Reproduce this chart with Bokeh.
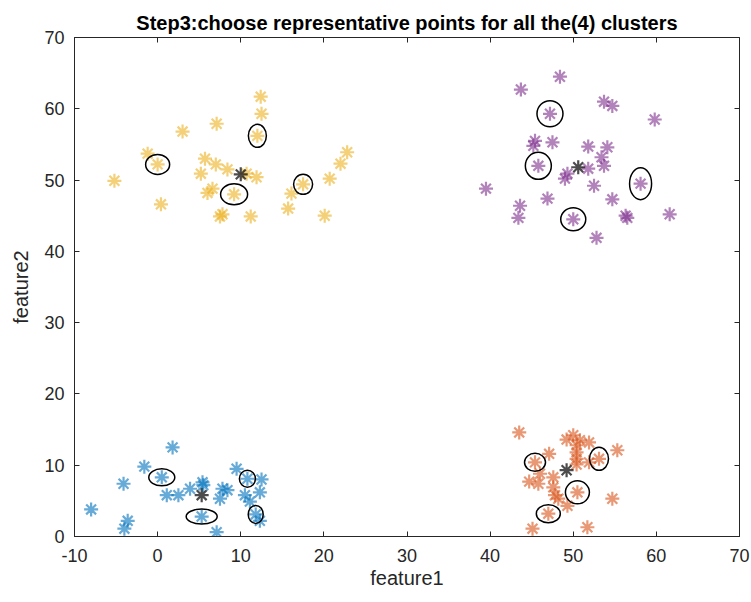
from bokeh.plotting import figure
from bokeh.models import LinearAxis, Range1d, FixedTicker
from bokeh.embed import file_html
from bokeh.resources import INLINE

# ---- data ----
blue_x = [1.8, -1.6, -4.1, 0.5, -8.0, -3.6, -4.0, 1.1, 2.5, 3.9, 5.4, 5.5, 5.3, 7.1, 7.8, 7.5, 8.4,
          9.5, 10.8, 12.5, 12.3, 10.5, 11.1, 11.8, 12.3]
blue_y = [12.5, 9.8, 7.4, 8.3, 3.8, 2.2, 1.1, 5.8, 5.8, 6.7, 7.6, 7.2, 2.8, 0.6, 6.7, 5.3, 6.5,
          9.5, 8.1, 8.0, 6.2, 5.8, 4.9, 3.1, 2.2]

orange_x = [43.5, 50.0, 49.2, 50.8, 51.9, 50.4, 50.4, 55.3, 47.1, 50.4, 51.9, 50.4, 45.4, 53.1,
            46.0, 44.7, 45.8, 47.6, 47.6, 47.8, 50.5, 48.2, 49.3, 54.7, 47.0, 45.1, 51.7]
orange_y = [14.6, 14.2, 13.6, 13.5, 13.2, 12.8, 11.8, 12.1, 11.6, 10.9, 10.4, 10.1, 10.4, 10.9,
            8.8, 7.7, 7.4, 8.3, 6.9, 5.8, 6.2, 5.3, 4.3, 5.3, 3.2, 1.1, 1.3]

yellow_x = [12.4, 12.5, 12.0, 3.0, 7.1, -1.2, 0.0, -5.2, 0.4, 5.7, 7.0, 5.2, 6.6, 6.0, 8.4, 9.2,
            7.8, 7.5, 11.2, 11.9, 10.7, 17.5, 16.1, 15.7, 20.1, 20.7, 22.0, 22.8]
yellow_y = [61.7, 59.3, 56.2, 56.8, 57.9, 53.7, 52.2, 49.9, 46.6, 53.0, 52.2, 50.9, 48.8, 48.2, 51.5, 48.0,
            45.2, 44.9, 44.9, 50.4, 50.9, 49.4, 48.1, 46.0, 45.0, 50.2, 52.3, 53.9]

purple_x = [48.4, 43.7, 47.2, 53.7, 54.7, 59.8, 45.4, 47.5, 45.2, 45.8, 51.8, 54.1, 53.4, 53.7,
            51.8, 49.3, 49.0, 52.5, 58.1, 39.5, 46.9, 54.7, 43.6, 43.4, 50.0, 56.3, 56.5, 61.6, 52.8]
purple_y = [64.5, 62.7, 59.3, 61.0, 60.4, 58.5, 55.5, 55.3, 54.8, 52.0, 54.7, 54.6, 53.2, 52.0,
            51.6, 50.9, 50.2, 49.2, 49.5, 48.8, 47.4, 47.3, 46.4, 44.7, 44.5, 45.0, 44.7, 45.2, 41.9]

centroid_x = [5.3, 49.2, 10.0, 50.6]
centroid_y = [5.8, 9.3, 50.8, 51.8]

rep_x = [0.5, 5.3, 10.8, 11.8, 45.4, 53.1, 50.5, 47.0, 12.0, 0.0, 9.2, 17.5, 47.2, 45.8, 58.1, 50.0]
rep_y = [8.3, 2.8, 8.1, 3.1, 10.4, 10.9, 6.2, 3.2, 56.2, 52.2, 48.0, 49.4, 59.3, 52.0, 49.5, 44.5]

x_ticks = [-10, 0, 10, 20, 30, 40, 50, 60, 70]
y_ticks = [0, 10, 20, 30, 40, 50, 60, 70]
x_tick_labels = ["-10", "0", "10", "20", "30", "40", "50", "60", "70"]

# ---- style ----
ell_w = [26, 31, 16, 15, 21, 19, 24, 24, 18, 24, 27, 19, 26, 26, 22, 25]
ell_h = [17, 15, 17, 18, 18, 23, 23, 18, 23, 20, 21, 20, 26, 27, 32, 23]
AX = "#262626"
FONT = "Liberation Sans"

p = figure(width=751, height=602, output_backend="svg", toolbar_location=None,
           x_range=Range1d(-10, 70), y_range=Range1d(0, 70),
           min_border_left=74, min_border_right=12, min_border_top=37, min_border_bottom=66)

p.title.text = "Step3:choose representative points for all the(4) clusters"
p.title.align = "center"
p.title.text_font = FONT
p.title.text_font_size = "20px"
p.title.text_font_style = "bold"
p.title.text_color = "black"
p.title.offset = 20
p.title.standoff = 7

p.grid.visible = False
p.outline_line_color = AX
p.outline_line_width = 1

for ax, ticks in ((p.xaxis[0], x_ticks), (p.yaxis[0], y_ticks)):
    ax.ticker = FixedTicker(ticks=ticks)
    ax.major_tick_in = 5
    ax.major_tick_out = 0
    ax.minor_tick_line_color = None
    ax.axis_line_color = AX
    ax.major_tick_line_color = AX
    ax.major_label_text_color = AX
    ax.major_label_text_font = FONT
    ax.major_label_text_font_size = "18px"
    ax.axis_label_text_font = FONT
    ax.axis_label_text_font_size = "20px"
    ax.axis_label_text_font_style = "normal"
    ax.axis_label_text_color = AX

p.xaxis.major_label_overrides = dict(zip(x_ticks, x_tick_labels))
p.xaxis.axis_label = "feature1"
p.yaxis.axis_label = "feature2"
p.xaxis.major_label_standoff = 12
p.yaxis.major_label_standoff = 10
p.xaxis.axis_label_standoff = 2
p.yaxis.axis_label_standoff = 9

top = LinearAxis(ticker=FixedTicker(ticks=x_ticks), major_tick_in=5, major_tick_out=0,
                 minor_tick_line_color=None, major_label_overrides={t: "" for t in x_ticks},
                 axis_line_color=None, major_tick_line_color=AX, major_label_standoff=0)
right = LinearAxis(ticker=FixedTicker(ticks=y_ticks), major_tick_in=5, major_tick_out=0,
                   minor_tick_line_color=None, major_label_overrides={t: "" for t in y_ticks},
                   axis_line_color=None, major_tick_line_color=AX, major_label_standoff=0)
p.add_layout(top, "above")
p.add_layout(right, "right")

for xs, ys, col in ((blue_x, blue_y, "#0072BD"), (orange_x, orange_y, "#D95319"),
                    (yellow_x, yellow_y, "#EDB120"), (purple_x, purple_y, "#7E2F8E")):
    p.scatter(xs, ys, marker="asterisk", size=14, line_color=col, line_width=2.2, line_alpha=0.6)

p.scatter(centroid_x, centroid_y, marker="asterisk", size=14, line_color="black",
          line_width=2.2, line_alpha=0.7)

p.ellipse(x=rep_x, y=rep_y, width=ell_w, height=ell_h, width_units="screen",
          height_units="screen", fill_color=None, line_color="black", line_width=1.5)

open("out.html", "w").write(file_html(p, INLINE))
